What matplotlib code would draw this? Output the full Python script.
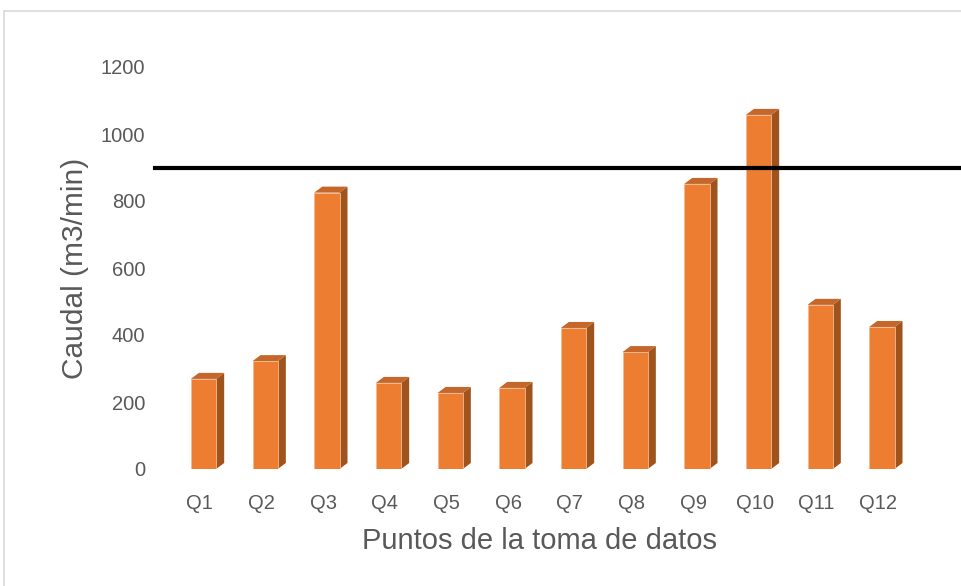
import matplotlib
matplotlib.use("Agg")
import matplotlib.pyplot as plt
from matplotlib.patches import Polygon, Rectangle

plt.rcParams['font.family'] = ['Liberation Sans', 'DejaVu Sans']

puntos = ['Q1', 'Q2', 'Q3', 'Q4', 'Q5', 'Q6', 'Q7', 'Q8', 'Q9', 'Q10', 'Q11', 'Q12']
caudal = [269, 322, 825, 257, 227, 242, 421, 349, 851, 1057, 490, 424]
limite = 900
yticks = [0, 200, 400, 600, 800, 1000, 1200]

front_col = '#ED7D31'
side_col = '#A0541D'
top_col = '#C5662A'
text_col = '#595959'

fig = plt.figure(figsize=(9.61, 5.86), dpi=100)
ax = fig.add_axes([169 / 961, 117 / 586, 740 / 961, 402 / 586])
ax.set_xlim(-0.5, len(puntos) - 0.5)
ax.set_ylim(0, 1200)

# pixel offsets for the fake 3D depth, converted to data units
bbox = ax.get_window_extent()
px_x = bbox.width / (len(puntos))
px_y = bbox.height / 1200
dx = 8 / px_x
dy = 6 / px_y
w = 0.41

for i, v in enumerate(caudal):
    x0 = i - w / 2 + 0.06
    x1 = x0 + w
    ax.add_patch(Rectangle((x0, 0), w, v, facecolor=front_col,
                           edgecolor='#F6B98E', lw=0.6, zorder=3))
    ax.add_patch(Polygon([(x1, 0), (x1 + dx, dy), (x1 + dx, v + dy), (x1, v)],
                         closed=True, facecolor=side_col, edgecolor='none', zorder=2))
    ax.add_patch(Polygon([(x0, v), (x0 + dx, v + dy), (x1 + dx, v + dy), (x1, v)],
                         closed=True, facecolor=top_col, edgecolor='none', zorder=2))

# reference line at 900 m3/min, running past the plot area to the edge
ax.axhline(limite, xmin=-0.019, xmax=1.1, color='black', lw=3, clip_on=False, zorder=5)

ax.set_xticks(range(len(puntos)))
ax.set_xticklabels(puntos)
ax.set_yticks(yticks)
ax.tick_params(axis='both', length=0, labelsize=14.5, labelcolor=text_col)
ax.tick_params(axis='x', pad=18)
ax.tick_params(axis='y', pad=17)
for s in ax.spines.values():
    s.set_visible(False)

ax.set_xlabel('Puntos de la toma de datos', fontsize=21, color=text_col)
ax.xaxis.label.set_va('center')
ax.xaxis.set_label_coords(0.5, -(541 - 469) / 402)
ax.set_ylabel('Caudal (m3/min)', fontsize=21.5, color=text_col)
ax.yaxis.label.set_va('center')
ax.yaxis.set_label_coords(-(169 - 75) / 740, 0.5)

# chart frame
fig.add_artist(Rectangle((4 / 961, -0.1), 1.2, 1.1 - 11 / 586, transform=fig.transFigure,
                         fill=False, edgecolor='#D9D9D9', lw=1.2))

fig.savefig('out.png', dpi=100)
